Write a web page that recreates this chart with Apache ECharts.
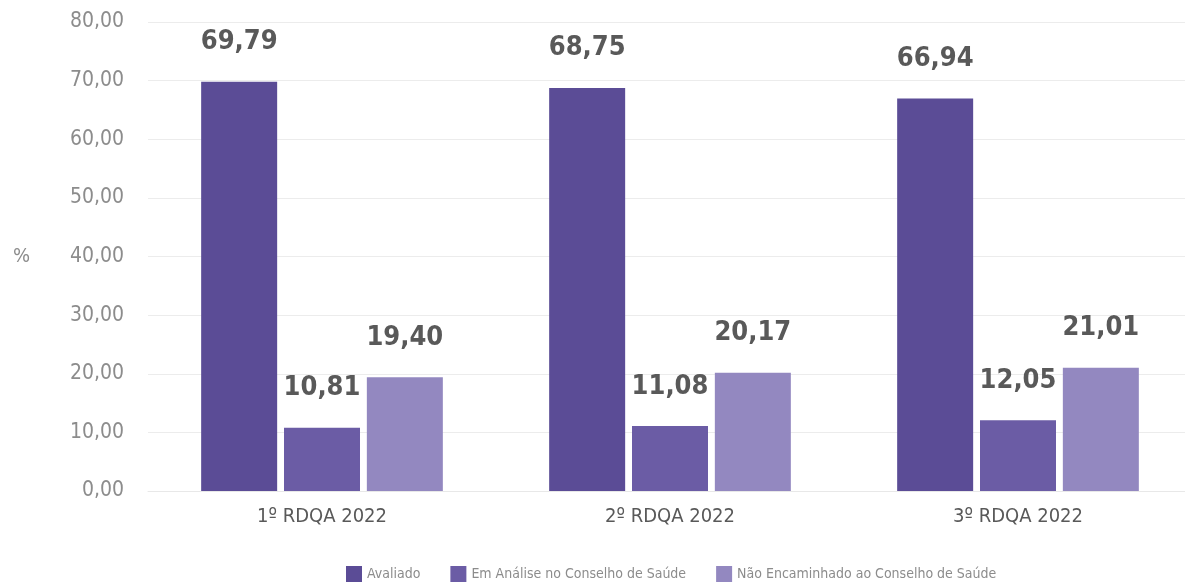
<!DOCTYPE html>
<html>
<head>
<meta charset="utf-8">
<script src="https://cdn.jsdelivr.net/npm/echarts@6/dist/echarts.min.js"></script>
<style>
  html, body { margin: 0; padding: 0; background: #fff; overflow: hidden; }
  #chart { width: 1192px; height: 585px; }
</style>
</head>
<body>
<div id="chart"></div>
<script>
const categories = ['1º RDQA 2022', '2º RDQA 2022', '3º RDQA 2022']
const avaliado = [69.79, 68.75, 66.94]
const emAnalise = [10.81, 11.08, 12.05]
const naoEncaminhado = [19.40, 20.17, 21.01]
const seriesNames = ['Avaliado', 'Em Análise no Conselho de Saúde', 'Não Encaminhado ao Conselho de Saúde']

const font = "'DejaVu Sans Condensed', 'Liberation Sans Narrow', sans-serif"
const fmt = v => v.toFixed(2).replace('.', ',')

// chart div is a few px wider than the window so the plot runs past the right edge
const chart = echarts.init(document.getElementById('chart'))

const makeSeries = (name, data, color) => ({
  name: name,
  type: 'bar',
  data: data,
  barWidth: 76,
  barGap: '9%',
  itemStyle: {color: color},
  label: {
    show: true,
    position: 'top',
    distance: 26,
    fontFamily: font,
    fontSize: 27,
    fontWeight: 'bold',
    color: '#595959',
    formatter: p => fmt(p.value),
  },
})

chart.setOption({
  backgroundColor: '#ffffff',
  animation: false,
  textStyle: {fontFamily: font},
  grid: {
    top: 22,
    left: 148,
    right: 0,
    bottom: 94,
  },
  legend: {
    bottom: -2,
    left: 341,
    icon: 'rect',
    itemWidth: 16,
    itemHeight: 16,
    itemGap: 30,
    data: seriesNames,
    textStyle: {
      fontFamily: font,
      fontSize: 14,
      color: '#8c8c8c',
    },
  },
  xAxis: {
    type: 'category',
    data: categories,
    axisTick: {show: false},
    axisLine: {lineStyle: {color: '#e8e8e8'}},
    axisLabel: {
      margin: 16,
      fontFamily: font,
      fontSize: 20,
      color: '#595959',
    },
  },
  yAxis: {
    type: 'value',
    min: 0,
    max: 80,
    interval: 10,
    name: '%',
    nameLocation: 'middle',
    nameRotate: 0,
    nameGap: 118,
    nameTextStyle: {
      fontFamily: font,
      fontSize: 20,
      color: '#8c8c8c',
      align: 'right',
    },
    axisLine: {show: false},
    axisTick: {show: false},
    axisLabel: {
      margin: 24,
      fontFamily: font,
      fontSize: 21,
      color: '#8c8c8c',
      formatter: v => fmt(v),
    },
    splitLine: {lineStyle: {color: '#ececec'}},
  },
  series: [
    makeSeries(seriesNames[0], avaliado, '#5b4c96'),
    makeSeries(seriesNames[1], emAnalise, '#6b5ca5'),
    makeSeries(seriesNames[2], naoEncaminhado, '#9388c0'),
  ],
})
</script>
</body>
</html>
